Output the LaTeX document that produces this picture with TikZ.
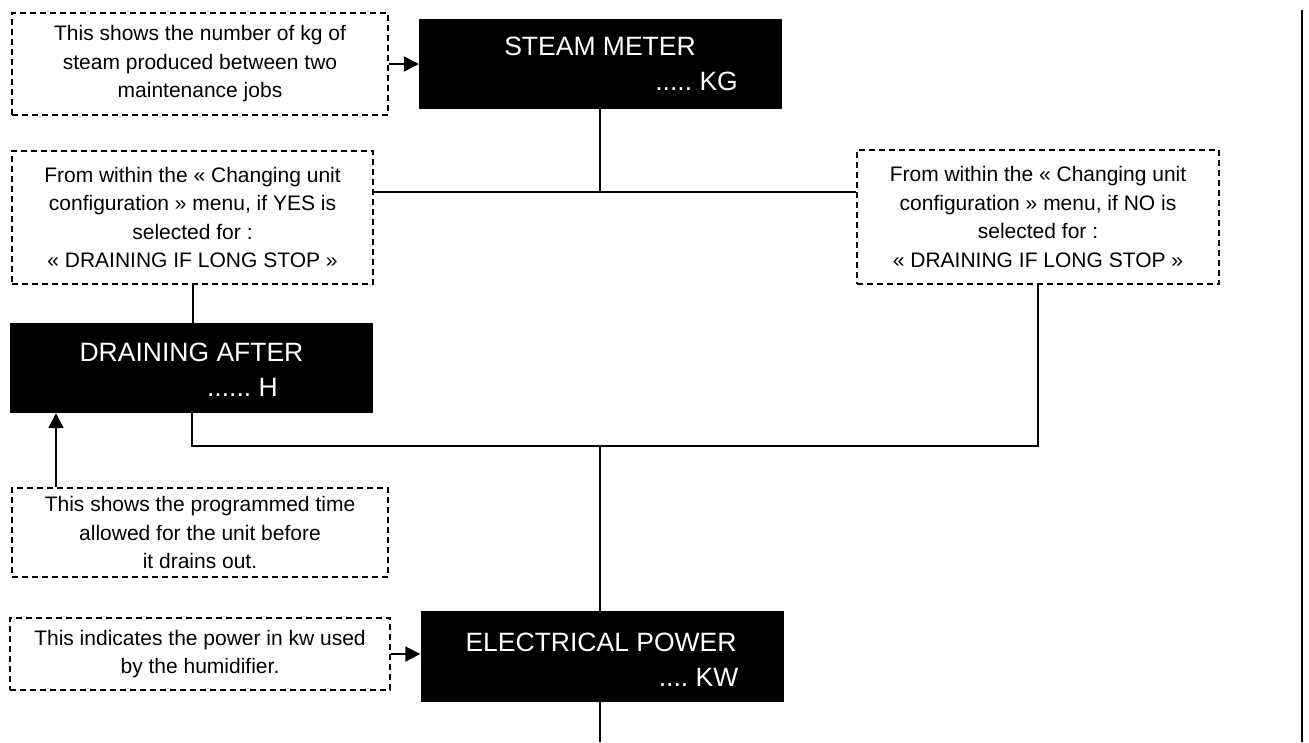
\documentclass[tikz,border=0pt]{standalone}
\usepackage{fontspec}
\setmainfont{Liberation Sans}
\usetikzlibrary{arrows.meta}
\newcommand\mynotefont{\fontsize{21}{28.5}\selectfont}
\newcommand\myboxfont{\fontsize{26.5}{30}\selectfont}
\frenchspacing
\begin{document}
\begin{tikzpicture}[x=1pt,y=-1pt,
  note/.style={draw, dash pattern=on 6pt off 4pt, line width=1.8pt, align=center, inner sep=0pt, font=\mynotefont},
  blk/.style={fill=black, draw=none, inner sep=0pt},
  wtxt/.style={text=white, font=\myboxfont, inner sep=0pt},
  conn/.style={line width=2pt},
  arr/.style={line width=2pt, -{Triangle[length=15pt,width=15pt]}}]
\useasboundingbox (0,0) rectangle (1309,742);

% notes
\node[note, minimum width=376pt, minimum height=102pt] (n1) at (200,64)
  {This shows the number of kg of\\steam produced between two\\maintenance jobs};
\node[note, minimum width=361pt, minimum height=133pt] (yes) at (192.5,217.5)
  {From within the « Changing unit\\configuration » menu, if YES is\\selected for :\\« DRAINING IF LONG STOP »};
\node[note, minimum width=362pt, minimum height=134pt] (no) at (1038,217)
  {From within the « Changing unit\\configuration » menu, if NO is\\selected for :\\« DRAINING IF LONG STOP »};
\node[note, minimum width=376pt, minimum height=89pt] (n3) at (200,532.5)
  {This shows the programmed time\\allowed for the unit before\\ it drains out.};
\node[note, minimum width=380pt, minimum height=72pt] (n4) at (200,654)
  {This indicates the power in kw used\\by the humidifier.};

% black boxes
\node[blk, minimum width=363pt, minimum height=90pt] (steam) at (600.5,64) {};
\node[wtxt, anchor=base] (steamT) at (600,55) {STEAM METER};
\node[wtxt, anchor=base east] (steamU) at (738,90.5) {..... KG};

\node[blk, minimum width=363pt, minimum height=90pt] (drain) at (191.5,368) {};
\node[wtxt, anchor=base] (drainT) at (191.5,361) {DRAINING AFTER};
\node[wtxt, anchor=base east] (drainU) at (278,396) {...... H};

\node[blk, minimum width=363pt, minimum height=91pt] (elec) at (602,656.5) {};
\node[wtxt, anchor=base] (elecT) at (601,651.5) {ELECTRICAL POWER};
\node[wtxt, anchor=base east] (elecU) at (738.5,686.5) {.... KW};

% junctions
\coordinate (J1) at (600,192);
\coordinate (J2) at (600,446);
\coordinate (ax) at (56,0);
\coordinate (endB) at (600,742);
\coordinate (rTop) at (1302,10);
\coordinate (rBot) at (1302,742);

% connectors
\draw[arr] (n1.east) -- (steam.west |- n1.east);
\draw[arr] (n4.east) -- (elec.west |- n4.east);
\draw[arr] (n3.north -| ax) -- (drain.south -| ax);
\draw[conn] (steam.south -| J1) -- (J1);
\draw[conn] (yes.east |- J1) -- (no.west |- J1);
\draw[conn] (yes.south) -- (drain.north -| yes.south);
\draw[conn] (drain.south) |- (J2) -| (no.south);
\draw[conn] (J2) -- (elec.north -| J2);
\draw[conn] (elec.south -| J2) -- (endB);
\draw[line width=2.5pt] (rTop) -- (rBot);
\end{tikzpicture}
\end{document}
